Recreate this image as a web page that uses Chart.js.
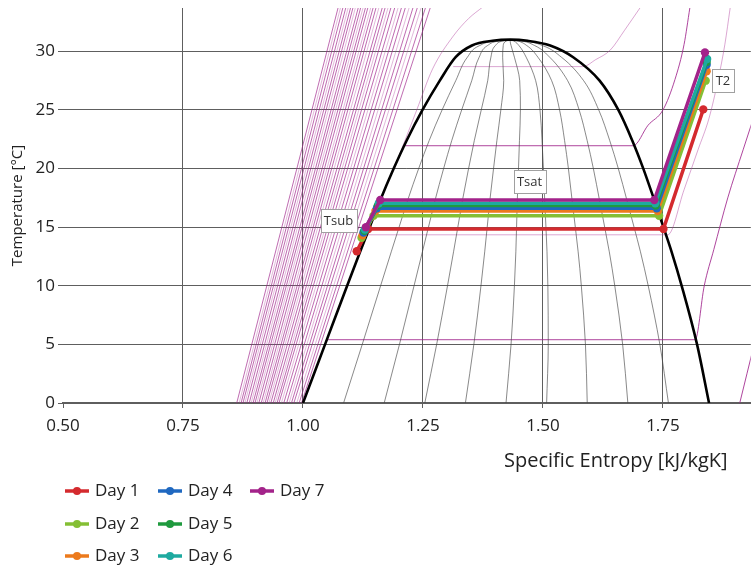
<!DOCTYPE html>
<html>
<head>
<meta charset="utf-8">
<script src="https://cdn.jsdelivr.net/npm/chart.js@4.4.1/dist/chart.umd.min.js"></script>
<style>
  html, body { margin: 0; padding: 0; background: #fff; overflow: hidden; }
  #wrap { width: 751px; height: 569px; overflow: hidden; }
</style>
</head>
<body>
<div id="wrap"><canvas id="chart" width="755" height="569"></canvas></div>
<script>
// ---- values ----
const xTicks = [0.5, 0.75, 1.0, 1.25, 1.5, 1.75];
const yTicks = [0, 5, 10, 15, 20, 25, 30];

// saturation dome (CO2): temperature, liquid entropy, vapour entropy
const satT       = [0,     5,     10,    12.9,  15,    17.3,  20,    22.4,  25,    27.5,  29.5,  30.5,  30.9,  31.0];
const satLiquidS = [1.000, 1.046, 1.092, 1.119, 1.139, 1.161, 1.189, 1.216, 1.249, 1.285, 1.318, 1.352, 1.395, 1.432];
const satVapourS = [1.846, 1.821, 1.789, 1.768, 1.751, 1.732, 1.709, 1.686, 1.657, 1.618, 1.563, 1.515, 1.468, 1.432];

// vapour quality lines inside the dome
const qualities = [0.1, 0.2, 0.3, 0.4, 0.5, 0.6, 0.7, 0.8, 0.9];

// steep isobars on the liquid side: entropy at T = 0 and at T = fanTopT
const fanTopT = 33.7;
const fanBottomS = [0.862, 0.867, 0.871, 0.875, 0.879, 0.883, 0.888, 0.892, 0.896, 0.900, 0.904,
                    0.908, 0.913, 0.917, 0.921, 0.925, 0.929, 0.933, 0.938, 0.942, 0.946, 0.950,
                    0.955, 0.960, 0.966, 0.971, 0.976, 0.981, 0.987, 0.992, 0.997];
const fanTopS    = [1.073, 1.078, 1.083, 1.089, 1.094, 1.099, 1.104, 1.109, 1.115, 1.120, 1.125,
                    1.130, 1.135, 1.141, 1.146, 1.152, 1.158, 1.165, 1.171, 1.177, 1.183, 1.191,
                    1.198, 1.205, 1.213, 1.221, 1.229, 1.238, 1.246, 1.255, 1.265];

// other isobars (entropy, temperature)
const isoA_S = [1.048, 1.817, 1.836, 1.856, 1.885, 1.917, 1.940];
const isoA_T = [5.4,   5.4,   10.0,  13.1,  17.5,  21.6,  24.5];
const isoB_S = [1.130, 1.760, 1.794, 1.823, 1.846, 1.865, 1.879, 1.890];
const isoB_T = [14.35, 14.35, 18.2,  21.6,  24.3,  27.6,  30.6,  33.7];
const isoC_S = [1.210, 1.688, 1.719, 1.750, 1.775, 1.794, 1.806];
const isoC_T = [21.95, 21.95, 23.7,  25.0,  27.6,  30.6,  33.7];
const isoD_S = [1.313, 1.583, 1.610, 1.640, 1.670, 1.702];
const isoD_T = [28.7,  28.7,  29.3,  30.1,  31.8,  33.7];
const isoE_S = [1.190, 1.237, 1.270, 1.313, 1.345, 1.375];
const isoE_T = [20.0,  25.0,  28.5,  31.3,  32.8,  33.8];
const isoF_S = [1.910, 1.925, 1.940];
const isoF_T = [0.0,   2.5,   5.0];

// refrigeration cycle, one line per day
const dayLabels = ['Day 1', 'Day 2', 'Day 3', 'Day 4', 'Day 5', 'Day 6', 'Day 7'];
const subT  = [12.95, 14.10, 14.30, 14.55, 14.70, 14.80, 15.00];
const subS  = [1.112, 1.122, 1.124, 1.126, 1.128, 1.129, 1.131];
const satTD = [14.85, 15.98, 16.38, 16.61, 16.84, 17.04, 17.32];
const liqS  = [1.136, 1.147, 1.151, 1.154, 1.156, 1.158, 1.161];
const vapS  = [1.751, 1.742, 1.739, 1.737, 1.735, 1.734, 1.732];
const t2T   = [25.05, 27.50, 28.30, 28.85, 29.10, 29.35, 29.90];
const t2S   = [1.834, 1.839, 1.841, 1.841, 1.841, 1.842, 1.8375];

// text boxes (anchored in data units)
const boxLabels = [
  { text: 'Tsub', s: 1.074, t: 15.6 },
  { text: 'Tsat', s: 1.472, t: 18.9 },
  { text: 'T2',   s: 1.875, t: 27.5 }
];

// ---- styles ----
const dayColors = ['#d42a2e', '#84bf34', '#ec7a1c', '#1f68c0', '#1f9a3e', '#1eaaa0', '#a3238a'];
const isoColor = 'rgba(160, 36, 140, 0.85)';
const isoLight = 'rgba(175, 60, 155, 0.45)';

const pts = (xs, ys) => xs.map((v, i) => ({ x: v, y: ys[i] }));
const datasets = [];

// cycle lines (drawn on top, Day 7 uppermost)
dayLabels.forEach((label, i) => {
  datasets.push({
    label,
    data: [
      { x: subS[i], y: subT[i] },
      { x: liqS[i], y: satTD[i] },
      { x: vapS[i], y: satTD[i] },
      { x: t2S[i], y: t2T[i] }
    ],
    borderColor: dayColors[i],
    backgroundColor: dayColors[i],
    borderWidth: 3.5,
    pointRadius: 4.2,
    pointBorderWidth: 0,
    order: 6 - i
  });
});

// saturation dome
const dome = pts(satLiquidS, satT).concat(pts(satVapourS, satT).reverse().slice(1));
datasets.push({
  label: 'dome', data: dome, borderColor: '#000', borderWidth: 2.6,
  pointRadius: 0, cubicInterpolationMode: 'monotone', order: 8
});

// quality lines (smoothed along the temperature axis)
qualities.forEach(q => {
  datasets.push({
    label: 'x' + q,
    indexAxis: 'y',
    data: satT.map((t, i) => ({ x: satLiquidS[i] + q * (satVapourS[i] - satLiquidS[i]), y: t })),
    borderColor: 'rgba(70,70,70,0.8)', borderWidth: 0.8, pointRadius: 0,
    cubicInterpolationMode: 'monotone', order: 20
  });
});

// isobar fan
fanBottomS.forEach((s0, i) => {
  datasets.push({
    label: 'fan' + i,
    data: [{ x: s0, y: 0 }, { x: fanTopS[i], y: fanTopT }],
    borderColor: i % 3 === 1 ? isoLight : isoColor, borderWidth: 0.8, pointRadius: 0, order: 30
  });
});

// other isobars
[[isoA_S, isoA_T, isoColor], [isoB_S, isoB_T, isoLight], [isoC_S, isoC_T, isoColor],
 [isoD_S, isoD_T, isoLight], [isoE_S, isoE_T, isoLight], [isoF_S, isoF_T, isoColor]].forEach(([s, t, c], i) => {
  datasets.push({
    label: 'iso' + i, data: pts(s, t), borderColor: c, borderWidth: 1,
    pointRadius: 0, cubicInterpolationMode: 'monotone', order: 30
  });
});

const FONT = '"Open Sans", sans-serif';

const extras = {
  id: 'extras',
  afterDatasetsDraw(chart) {
    const { ctx, scales: { x, y } } = chart;
    ctx.save();
    ctx.font = '13px ' + FONT;
    ctx.textAlign = 'center';
    ctx.textBaseline = 'middle';
    boxLabels.forEach(b => {
      const px = x.getPixelForValue(b.s), py = y.getPixelForValue(b.t);
      const w = Math.round(ctx.measureText(b.text).width + 7), h = 23;
      const l = Math.round(px - w / 2) + 0.5, tp = Math.round(py - h / 2) + 0.5;
      ctx.fillStyle = '#fff';
      ctx.fillRect(l, tp, w, h);
      ctx.strokeStyle = '#a0a0a0';
      ctx.lineWidth = 1;
      ctx.strokeRect(l, tp, w, h);
      ctx.fillStyle = '#333';
      ctx.fillText(b.text, px, py + 1);
    });
    ctx.restore();
  },
  afterDraw(chart) {
    const { ctx, chartArea } = chart;
    ctx.save();
    ctx.fillStyle = '#222';
    ctx.font = '20px ' + FONT;
    ctx.textBaseline = 'middle';
    ctx.textAlign = 'center';
    ctx.fillText('Specific Entropy [kJ/kgK]', chartArea.right - 135, chartArea.bottom + 58);

    // legend, filled column by column
    const colX = [65, 158, 250], rowY = [491, 524, 556];
    ctx.font = '17px ' + FONT;
    ctx.textAlign = 'left';
    dayLabels.forEach((label, i) => {
      const cx = colX[Math.floor(i / 3)], cy = rowY[i % 3];
      ctx.strokeStyle = dayColors[i];
      ctx.fillStyle = dayColors[i];
      ctx.lineWidth = 3.5;
      ctx.beginPath();
      ctx.moveTo(cx, cy);
      ctx.lineTo(cx + 24, cy);
      ctx.stroke();
      ctx.beginPath();
      ctx.arc(cx + 12, cy, 4, 0, Math.PI * 2);
      ctx.fill();
      ctx.fillStyle = '#222';
      ctx.fillText(label, cx + 30, cy);
    });
    ctx.restore();
  }
};

Chart.defaults.font.family = FONT;
Chart.defaults.font.size = 17;
Chart.defaults.color = '#222';

new Chart(document.getElementById('chart'), {
  type: 'line',
  data: { datasets },
  options: {
    responsive: false,
    animation: false,
    devicePixelRatio: 1,
    layout: { padding: { top: 8, right: 0, left: 0, bottom: 0 } },
    plugins: { legend: { display: false }, tooltip: { enabled: false } },
    scales: {
      x: {
        type: 'linear',
        min: 0.5,
        max: 1.933,
        afterBuildTicks: s => { s.ticks = xTicks.map(v => ({ value: v })); },
        afterFit: s => { s.height = 166; s.paddingRight = 0; },
        ticks: { callback: v => v.toFixed(2), padding: 8, maxRotation: 0 },
        grid: {
          color: c => (c.tick && c.tick.value <= 0.5 ? 'rgba(0,0,0,0)' : '#5e5e5e'),
          tickColor: '#5e5e5e',
          tickLength: 5,
          lineWidth: 1
        },
        border: { display: true, color: '#5e5e5e', width: 2 }
      },
      y: {
        type: 'linear',
        min: 0,
        max: 33.7,
        afterBuildTicks: s => { s.ticks = yTicks.map(v => ({ value: v })); },
        afterFit: s => { s.width = 63; s.paddingTop = 0; s.paddingBottom = 0; },
        ticks: { padding: 3 },
        title: { display: true, text: 'Temperature [°C]', padding: { top: 9, bottom: 0 }, font: { size: 15 } },
        grid: { color: '#5e5e5e', tickColor: '#5e5e5e', tickLength: 5, lineWidth: 1 },
        border: { display: false }
      }
    }
  },
  plugins: [extras]
});
</script>
</body>
</html>
